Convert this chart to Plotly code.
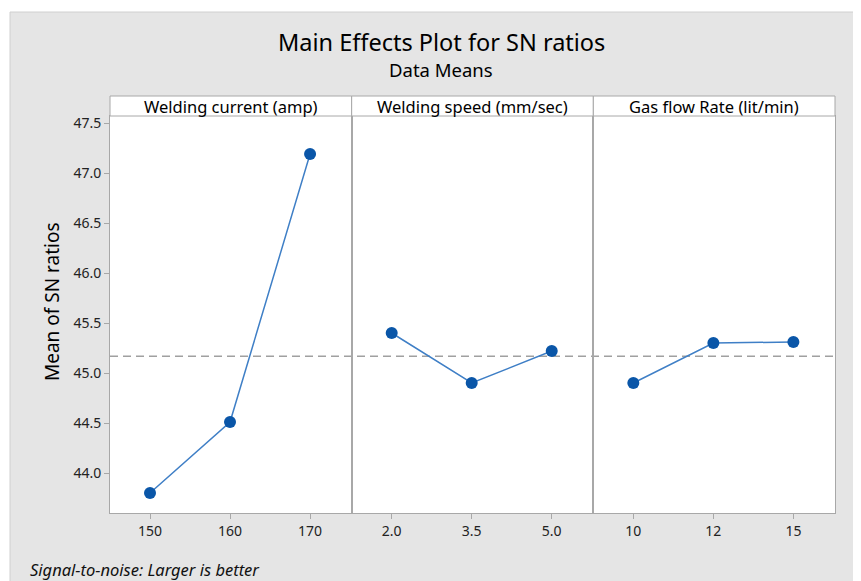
import plotly.graph_objects as go
from plotly.subplots import make_subplots

panel_titles = ["Welding current (amp)", "Welding speed (mm/sec)", "Gas flow Rate (lit/min)"]
current_levels = ["150", "160", "170"]
current_sn = [43.80, 44.51, 47.19]
speed_levels = ["2.0", "3.5", "5.0"]
speed_sn = [45.40, 44.90, 45.22]
gas_levels = ["10", "12", "15"]
gas_sn = [44.90, 45.30, 45.31]
y_ticks = [44.0, 44.5, 45.0, 45.5, 46.0, 46.5, 47.0, 47.5]

levels = [current_levels, speed_levels, gas_levels]
values = [current_sn, speed_sn, gas_sn]
overall_mean = sum(current_sn) / len(current_sn)

OFF = 8  # page body margin
W, H = 861 - OFF, 581 - OFF
L, R, T, B = 110 - OFF, 861 - 835, 116 - OFF, 581 - 513
ph = H - T - B
pw = W - L - R

def px_x(x):
    return (x - OFF - L) / pw

def px_y(y):
    return (H - B - (y - OFF)) / ph

FONT = "Noto Sans"
GRID = "#A8A8A8"
fig = make_subplots(rows=1, cols=3, shared_yaxes=True, horizontal_spacing=0)

for i in range(3):
    fig.add_trace(go.Scatter(
        x=list(range(3)), y=values[i], mode="lines+markers",
        line=dict(color="#3F7FC6", width=1.5),
        marker=dict(color="#0A56A8", size=12),
        showlegend=False, hoverinfo="skip"), row=1, col=i + 1)
    fig.update_xaxes(
        range=[-0.5, 2.52], tickmode="array", tickvals=list(range(3)),
        ticktext=levels[i], showline=True, linecolor=GRID, linewidth=1,
        mirror=True, ticks="outside", ticklen=5, tickcolor=GRID,
        showgrid=False, zeroline=False,
        tickfont=dict(family=FONT, size=14, color="#222222"),
        row=1, col=i + 1)

fig.update_yaxes(range=[43.6, 47.57], tickmode="array", tickvals=y_ticks,
                 ticktext=[f"{v:.1f}" for v in y_ticks],
                 showline=True, linecolor=GRID, linewidth=1, mirror=True,
                 ticks="", showgrid=False, zeroline=False,
                 tickfont=dict(family=FONT, size=14, color="#222222"))
fig.update_yaxes(ticks="outside", ticklen=5, tickcolor=GRID, row=1, col=1)

shapes = []
# white page area outside grey frame
shapes.append(dict(type="rect", xref="paper", yref="paper", x0=px_x(-5), x1=px_x(W + 20),
                   y0=px_y(12), y1=px_y(-5), fillcolor="white", line_width=0, layer="below"))
shapes.append(dict(type="rect", xref="paper", yref="paper", x0=px_x(-5), x1=px_x(10),
                   y0=px_y(H + 20), y1=px_y(-5), fillcolor="white", line_width=0, layer="below"))
shapes.append(dict(type="line", xref="paper", yref="paper", x0=px_x(10), x1=px_x(W + 20),
                   y0=px_y(12), y1=px_y(12), line=dict(color="#D0D0D0", width=1)))
shapes.append(dict(type="line", xref="paper", yref="paper", x0=px_x(10), x1=px_x(10),
                   y0=px_y(12), y1=px_y(H + 20), line=dict(color="#D0D0D0", width=1)))
# strip headers
for i in range(3):
    shapes.append(dict(type="rect", xref="paper", yref="paper", x0=i / 3, x1=(i + 1) / 3,
                       y0=1, y1=px_y(96), fillcolor="white",
                       line=dict(color=GRID, width=1)))
# reference mean line
shapes.append(dict(type="line", xref="paper", yref="y", x0=0, x1=1,
                   y0=overall_mean, y1=overall_mean,
                   line=dict(color="#A0A0A0", width=1.5, dash="8px,5px"), layer="below"))

annotations = []
for i in range(3):
    annotations.append(dict(text=panel_titles[i], xref="paper", yref="paper",
                            x=(i + 0.5) / 3, y=px_y(106), showarrow=False,
                            font=dict(family=FONT, size=16.5, color="#000000"),
                            xanchor="center", yanchor="middle"))
annotations.append(dict(text="Main Effects Plot for SN ratios", xref="paper", yref="paper",
                        x=px_x(441), y=px_y(42), showarrow=False,
                        font=dict(family=FONT, size=23.5, color="#000000"),
                        xanchor="center", yanchor="middle"))
annotations.append(dict(text="Data Means", xref="paper", yref="paper",
                        x=px_x(441), y=px_y(69), showarrow=False,
                        font=dict(family=FONT, size=18.5, color="#000000"),
                        xanchor="center", yanchor="middle"))
annotations.append(dict(text="Mean of SN ratios", xref="paper", yref="paper",
                        x=px_x(52), y=px_y(302), showarrow=False, textangle=-90,
                        font=dict(family=FONT, size=19, color="#000000"),
                        xanchor="center", yanchor="middle"))
annotations.append(dict(text="<i>Signal-to-noise: Larger is better</i>", xref="paper", yref="paper",
                        x=px_x(28), y=px_y(569), showarrow=False,
                        font=dict(family=FONT, size=16.5, color="#111111"),
                        xanchor="left", yanchor="middle"))

fig.update_layout(width=W, height=H, margin=dict(l=L, r=R, t=T, b=B),
                  paper_bgcolor="#E5E5E5", plot_bgcolor="white",
                  shapes=shapes, annotations=annotations)

fig.write_html("out.html")
